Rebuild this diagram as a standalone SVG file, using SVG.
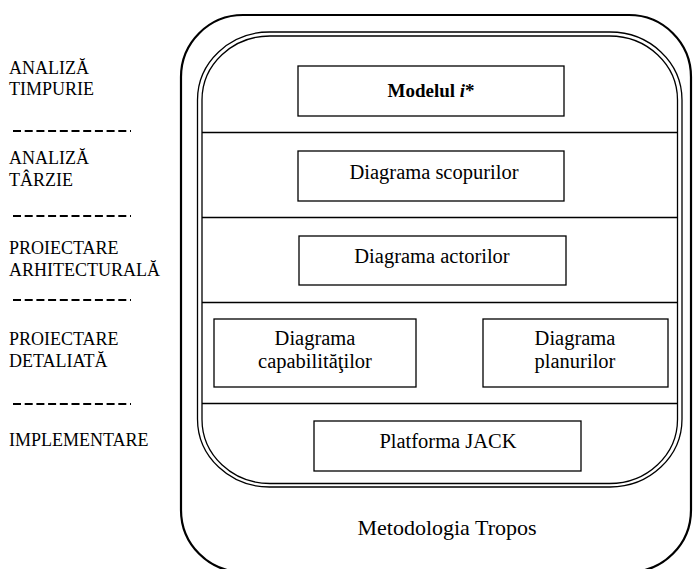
<svg xmlns="http://www.w3.org/2000/svg" width="696" height="569" viewBox="0 0 696 569">
<style>
  text { font-family: "Liberation Serif", "Times New Roman", serif; fill: #000; }
  .lbl { font-size: 18px; }
  .box { fill: #fff; stroke: #000; stroke-width: 1.3; }
  .t { font-family: "Liberation Serif", "Times New Roman", serif; font-size: 20.5px; text-anchor: middle; }
  .dash { stroke: #000; stroke-width: 2; stroke-dasharray: 8 3.7; fill: none; }
  .sep { stroke: #000; stroke-width: 1.3; fill: none; }
</style>
<rect width="696" height="569" fill="#fff"/>
<g id="phases">
  <text class="lbl" x="9" y="74">ANALIZĂ</text>
  <text class="lbl" x="9" y="95">TIMPURIE</text>
  <text class="lbl" x="9" y="164">ANALIZĂ</text>
  <text class="lbl" x="9" y="186">TÂRZIE</text>
  <text class="lbl" x="9" y="254">PROIECTARE</text>
  <text class="lbl" x="9" y="276">ARHITECTURALĂ</text>
  <text class="lbl" x="9" y="345">PROIECTARE</text>
  <text class="lbl" x="9" y="367">DETALIATĂ</text>
  <text class="lbl" x="9" y="446">IMPLEMENTARE</text>
  <line class="dash" x1="13" y1="131" x2="131" y2="131"/>
  <line class="dash" x1="13" y1="216" x2="131" y2="216"/>
  <line class="dash" x1="13" y1="300" x2="131" y2="300"/>
  <line class="dash" x1="13" y1="404" x2="131" y2="404"/>
</g>
<g id="tropos">
  <rect x="181" y="15" width="510" height="557" rx="62" ry="62" fill="none" stroke="#000" stroke-width="2.2"/>
  <text x="447" y="535" font-family="Liberation Serif, Times New Roman, serif" style="font-size:22px;text-anchor:middle">Metodologia Tropos</text>
</g>
<g id="frame">
  <rect x="197.5" y="32" width="484.5" height="455" rx="72" ry="68" fill="none" stroke="#000" stroke-width="1.3"/>
  <rect x="202" y="36" width="475.5" height="447.5" rx="68" ry="64" fill="none" stroke="#000" stroke-width="1.3"/>
</g>
<g id="connectors">
  <line class="sep" x1="202" y1="132.5" x2="677.5" y2="132.5"/>
  <line class="sep" x1="202" y1="217.5" x2="677.5" y2="217.5"/>
  <line class="sep" x1="202" y1="302.5" x2="677.5" y2="302.5"/>
  <line class="sep" x1="202" y1="403.5" x2="677.5" y2="403.5"/>
</g>
<g id="modelul">
  <rect class="box" x="298" y="66" width="266" height="50"/>
  <text x="431" y="97" style="font-size:19px;text-anchor:middle;font-weight:bold">Modelul <tspan font-style="italic">i</tspan>*</text>
</g>
<g id="scopuri">
  <rect class="box" x="298" y="151" width="266" height="50"/>
  <text class="t" x="434" y="179">Diagrama scopurilor</text>
</g>
<g id="actori">
  <rect class="box" x="299" y="236" width="267" height="49"/>
  <text class="t" x="432" y="263">Diagrama actorilor</text>
</g>
<g id="capabilitati">
  <rect class="box" x="214" y="319" width="202" height="68"/>
  <text class="t" x="315" y="345">Diagrama</text>
  <text class="t" x="315" y="368">capabilităţilor</text>
</g>
<g id="planuri">
  <rect class="box" x="483" y="319" width="185" height="68"/>
  <text class="t" x="575" y="345">Diagrama</text>
  <text class="t" x="575" y="368">planurilor</text>
</g>
<g id="jack">
  <rect class="box" x="314" y="421" width="267" height="50"/>
  <text class="t" x="448" y="448">Platforma JACK</text>
</g>
</svg>
